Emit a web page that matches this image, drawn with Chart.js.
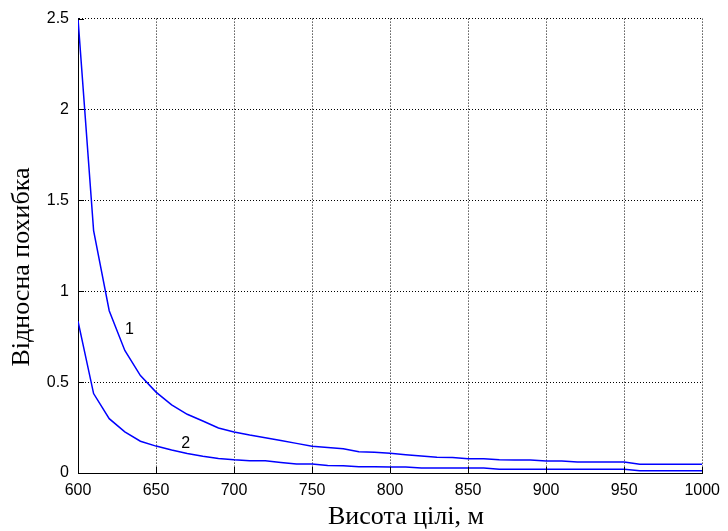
<!DOCTYPE html>
<html>
<head>
<meta charset="utf-8">
<script src="https://cdn.jsdelivr.net/npm/chart.js@4/dist/chart.umd.min.js"></script>
<style>
html,body{margin:0;padding:0;background:#fff;}
#wrap{width:728px;height:531px;position:relative;}
</style>
</head>
<body>
<div id="wrap"><canvas id="c" width="728" height="531"></canvas></div>
<script>
const heights = [600,610,620,630,640,650,660,670,680,690,700,710,720,730,740,750,760,770,780,790,800,810,820,830,840,850,860,870,880,890,900,910,920,930,940,950,960,970,980,990,1000];
const error1 = [2.5,1.334,0.893,0.674,0.536,0.445,0.375,0.323,0.286,0.248,0.226,0.209,0.194,0.179,0.163,0.147,0.140,0.133,0.117,0.114,0.108,0.100,0.093,0.087,0.085,0.079,0.078,0.073,0.072,0.072,0.066,0.066,0.060,0.060,0.060,0.060,0.048,0.048,0.048,0.048,0.048];
const error2 = [0.835,0.437,0.299,0.226,0.175,0.148,0.126,0.107,0.092,0.080,0.073,0.068,0.067,0.058,0.050,0.049,0.041,0.040,0.034,0.034,0.033,0.033,0.027,0.027,0.027,0.027,0.027,0.021,0.021,0.021,0.021,0.021,0.021,0.021,0.021,0.021,0.012,0.012,0.012,0.012,0.012];
const xTicks = [600,650,700,750,800,850,900,950,1000];
const yTicks = [0,0.5,1,1.5,2,2.5];
const xTickLabels = ['600','650','700','750','800','850','900','950','1000'];
const yTickLabels = ['0','0.5','1','1.5','2','2.5'];
const curveLabels = ['1','2'];
const curveLabelX = [633,669];
const curveLabelY = [0.79,0.164];
const xTitle = 'Висота цілі, м';
const yTitle = 'Відносна похибка';

const toPoints = (xs, ys) => xs.map((x, i) => ({x: x, y: ys[i]}));

const decorPlugin = {
  id: 'decor',
  afterDatasetsDraw(chart) {
    const ctx = chart.ctx;
    const xs = chart.scales.x, ys = chart.scales.y;
    const a = chart.chartArea;
    ctx.save();
    ctx.strokeStyle = '#000';
    ctx.lineWidth = 1;
    ctx.beginPath();
    xTicks.forEach(v => {
      const px = Math.round(xs.getPixelForValue(v)) + 0.5;
      ctx.moveTo(px, a.bottom);
      ctx.lineTo(px, a.bottom - 6);
    });
    yTicks.forEach(v => {
      const py = Math.round(ys.getPixelForValue(v)) + 0.5;
      ctx.moveTo(a.left, py);
      ctx.lineTo(a.left + 6, py);
    });
    ctx.stroke();
    ctx.fillStyle = '#000';
    ctx.font = '16px "Liberation Sans", Arial, sans-serif';
    ctx.textAlign = 'center';
    ctx.textBaseline = 'middle';
    curveLabels.forEach((t, i) => {
      ctx.fillText(t, xs.getPixelForValue(curveLabelX[i]), ys.getPixelForValue(curveLabelY[i]));
    });
    ctx.restore();
  },
  afterDraw(chart) {
    const ctx = chart.ctx;
    ctx.save();
    ctx.fillStyle = '#000';
    ctx.font = '26px "Liberation Serif", "Times New Roman", serif';
    ctx.textAlign = 'center';
    ctx.textBaseline = 'alphabetic';
    ctx.fillText(xTitle, 406, 524);
    ctx.translate(29, 267);
    ctx.rotate(-Math.PI / 2);
    ctx.fillText(yTitle, 0, 0);
    ctx.restore();
  }
};

new Chart(document.getElementById('c'), {
  type: 'line',
  data: {
    datasets: [
      {label: '1', data: toPoints(heights, error1), borderColor: '#0000ff', borderWidth: 1.5, pointRadius: 0, tension: 0, fill: false},
      {label: '2', data: toPoints(heights, error2), borderColor: '#0000ff', borderWidth: 1.5, pointRadius: 0, tension: 0, fill: false}
    ]
  },
  options: {
    responsive: false,
    animation: false,
    devicePixelRatio: 1,
    layout: {padding: {top: 17, right: 22, left: 0, bottom: 0}},
    plugins: {legend: {display: false}, tooltip: {enabled: false}},
    scales: {
      x: {
        type: 'linear', min: 600, max: 1000,
        afterBuildTicks: s => { s.ticks = xTicks.map(v => ({value: v})); },
        afterFit: s => { s.height = 58; },
        ticks: {color: '#000', font: {family: '"Liberation Sans", Arial, sans-serif', size: 16}, padding: 8, maxRotation: 0, autoSkip: false,
          callback: (v, i) => xTickLabels[i]},
        grid: {color: '#000', lineWidth: 1, drawTicks: false},
        border: {display: true, color: '#000', width: 1, dash: [1, 2]}
      },
      y: {
        type: 'linear', min: 0, max: 2.5,
        afterBuildTicks: s => { s.ticks = yTicks.map(v => ({value: v})); },
        afterFit: s => { s.width = 78; },
        ticks: {color: '#000', font: {family: '"Liberation Sans", Arial, sans-serif', size: 16}, padding: 9, autoSkip: false,
          callback: (v, i) => yTickLabels[i]},
        grid: {color: '#000', lineWidth: 1, drawTicks: false},
        border: {display: true, color: '#000', width: 1, dash: [1, 2]}
      }
    }
  },
  plugins: [decorPlugin]
});
</script>
</body>
</html>
